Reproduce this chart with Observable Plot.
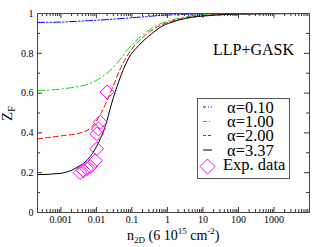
<!DOCTYPE html>
<html><head><meta charset="utf-8">
<script src="https://cdn.jsdelivr.net/npm/d3@7"></script>
<script src="https://cdn.jsdelivr.net/npm/@observablehq/plot@0.6"></script>
<style>body{margin:0;background:#fff}svg{display:block}</style>
</head><body>
<script>
// Curves: density n (units of 6e15 cm^-2) and Z_F
const blueN  = [2.2e-4, 1e-3, 5e-3, 3.2e-2, 0.17, 0.63, 3.2, 32, 1e4];
const blueZ  = [0.955, 0.957, 0.963, 0.972, 0.982, 0.99, 0.996, 0.999, 1.0];
const greenN = [2.2e-4, 1e-3, 3.5e-3, 4.8e-3, 1.4e-2, 3.4e-2, 7.9e-2, 0.19, 0.5, 1.2, 10, 100, 1e4];
const greenZ = [0.613, 0.62, 0.635, 0.64, 0.68, 0.739, 0.822, 0.889, 0.94, 0.965, 0.993, 0.999, 1.0];
const redN   = [2.2e-4, 1e-3, 3.5e-3, 7.4e-3, 1.4e-2, 2.75e-2, 5.2e-2, 0.1, 0.23, 0.63, 1.26, 3.2, 16, 100, 1e4];
const redZ   = [0.37, 0.385, 0.40, 0.43, 0.504, 0.62, 0.739, 0.822, 0.889, 0.94, 0.96, 0.978, 0.992, 0.998, 1.0];
const blackN = [2.2e-4, 1e-3, 3.5e-3, 4.8e-3, 9.3e-3, 1.8e-2, 2.75e-2, 4.2e-2, 7.9e-2, 0.155, 0.36, 0.63, 1.26, 3.2, 16, 100, 1e4];
const blackZ = [0.19, 0.197, 0.236, 0.253, 0.32, 0.437, 0.554, 0.655, 0.772, 0.839, 0.898, 0.931, 0.955, 0.975, 0.99, 0.997, 1.0];
// Experimental data
const expN = [0.0035, 0.0044, 0.0054, 0.0068, 0.0093, 0.0102, 0.0102, 0.0115, 0.0129, 0.020];
const expZ = [0.20, 0.21, 0.22, 0.23, 0.26, 0.32, 0.395, 0.42, 0.454, 0.605];
// Legend / ticks
const seriesLabels = ["α=0.10", "α=1.00", "α=2.00", "α=3.37"];
const seriesColors = ["#0000ff", "#00e000", "#ff0000", "#000000"];
const seriesDash   = ["7,2,1.5,2,1.5,2", "7,3,1.5,3", "5,3", null];
const legendDash   = ["3,2,1,2", "4,2,1,2", "3,2", null];
const xTickLabels = [0.001, 0.01, 0.1, 1, 10, 100, 1000];
const yTickLabels = [0, 0.2, 0.4, 0.6, 0.8, 1];
const yMinor = [0.1, 0.3, 0.5, 0.7, 0.9];

const W = 319, H = 247, mL = 37, mR = 10, mT = 13, mB = 35;
const innerW = W - mL - mR, innerH = H - mT - mB;
const FONT = "Liberation Serif, Times New Roman, serif";

const series = [[blueN, blueZ], [greenN, greenZ], [redN, redZ], [blackN, blackZ]]
  .map(([n, z], i) => n.map((v, j) => ({n: v, z: z[j], s: i})));
const exp = expN.map((v, j) => ({n: v, z: expZ[j]}));

const xDomain = [2.2e-4, 1e4];
const xMinor = [];
for (let e = -4; e <= 3; e++) for (let k = 2; k <= 9; k++) {
  const v = k * Math.pow(10, e);
  if (v > xDomain[0] && v < xDomain[1]) xMinor.push(v);
}
const xMajor = [1e-3, 1e-2, 1e-1, 1, 10, 100, 1000];

const marks = [];
series.forEach((d, i) => {
  marks.push(Plot.line(d, {x: "n", y: "z", stroke: seriesColors[i], strokeWidth: 1,
    strokeDasharray: seriesDash[i], curve: "monotone-x"}));
});
marks.push(Plot.dot(exp, {x: "n", y: "z", symbol: "diamond2", r: 6.3, stroke: "#ff00ff", strokeWidth: 1, fill: "none"}));
// inward ticks on all four sides
marks.push(Plot.tickX(xMajor, {x: d => d, insetTop: innerH - 5, stroke: "#333"}));
marks.push(Plot.tickX(xMajor, {x: d => d, insetBottom: innerH - 5, stroke: "#333"}));
marks.push(Plot.tickX(xMinor, {x: d => d, insetTop: innerH - 3, stroke: "#333"}));
marks.push(Plot.tickX(xMinor, {x: d => d, insetBottom: innerH - 3, stroke: "#333"}));
marks.push(Plot.tickY(yTickLabels, {y: d => d, insetRight: innerW - 5, stroke: "#333"}));
marks.push(Plot.tickY(yTickLabels, {y: d => d, insetLeft: innerW - 5, stroke: "#333"}));
marks.push(Plot.tickY(yMinor, {y: d => d, insetRight: innerW - 3, stroke: "#333"}));
marks.push(Plot.tickY(yMinor, {y: d => d, insetLeft: innerW - 3, stroke: "#333"}));
marks.push(Plot.axisX(xTickLabels, {tickSize: 0, tickPadding: 3, tickFormat: d => String(d), fontSize: 10, label: null}));
marks.push(Plot.axisY(yTickLabels, {tickSize: 0, tickPadding: 4, tickFormat: d => String(d), fontSize: 10, label: null}));
marks.push(Plot.frame({stroke: "#444"}));

const svgEl = Plot.plot({
  width: W, height: H, marginLeft: mL, marginRight: mR, marginTop: mT, marginBottom: mB,
  style: {fontFamily: FONT, color: "#000", background: "#fff"},
  x: {type: "log", domain: xDomain},
  y: {domain: [0, 1]},
  marks
});
document.body.appendChild(svgEl);

const svg = d3.select(svgEl);
const txt = (sel) => sel.attr("font-family", FONT).attr("fill", "#000").attr("text-anchor", "start");
// Axis labels
const yl = txt(svg.append("text")).attr("transform", "translate(12,121) rotate(-90)").attr("font-size", 15);
yl.append("tspan").text("Z");
yl.append("tspan").attr("font-size", 10).attr("dy", 3).text("F");

const xl = txt(svg.append("text")).attr("x", 127).attr("y", 240).attr("font-size", 14);
xl.append("tspan").text("n");
xl.append("tspan").attr("font-size", 9).attr("dy", 3).text("2D");
xl.append("tspan").attr("dy", -3).text(" (6 10");
xl.append("tspan").attr("font-size", 9).attr("dy", -6).text("15");
xl.append("tspan").attr("dy", 6).text(" cm");
xl.append("tspan").attr("font-size", 9).attr("dy", -6).text("-2");
xl.append("tspan").attr("dy", 6).text(")");

txt(svg.append("text")).attr("x", 213).attr("y", 55).attr("font-size", 16).text("LLP+GASK");

// Legend
const lg = svg.append("g");
lg.append("rect").attr("x", 197.5).attr("y", 98.5).attr("width", 92).attr("height", 80)
  .attr("fill", "#fff").attr("stroke", "#555");
const rowY = [107, 121.5, 135.5, 150];
seriesLabels.forEach((lab, i) => {
  lg.append("line").attr("x1", 203).attr("x2", 212).attr("y1", rowY[i]).attr("y2", rowY[i])
    .attr("stroke", seriesColors[i]).attr("stroke-width", 1)
    .attr("stroke-dasharray", legendDash[i]);
  txt(lg.append("text")).attr("x", 227).attr("y", rowY[i] + 5.5).attr("font-size", 16.5).text(lab);
});
lg.append("path").attr("d", "M207.5,159L215,166.5L207.5,174L200,166.5Z")
  .attr("fill", "none").attr("stroke", "#ff00ff");
txt(lg.append("text")).attr("x", 223).attr("y", 170).attr("font-size", 16.5).text("Exp. data");
</script>
</body></html>
